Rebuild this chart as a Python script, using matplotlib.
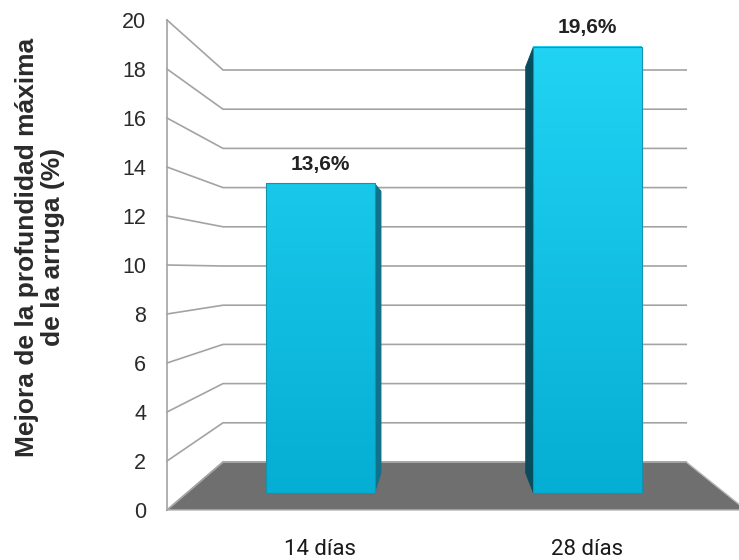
import numpy as np
import matplotlib.pyplot as plt
from matplotlib.patches import Polygon
from matplotlib.colors import LinearSegmentedColormap

categorias = ["14 días", "28 días"]
valores = [13.6, 19.6]
etiquetas = ["13,6%", "19,6%"]
yticks = list(range(0, 21, 2))

# figure / perspective layout (pixels of the 739x560 output)
W, H = 739, 560
PX = 24.5            # px per unit on the front plane
X0, Y0 = 167, 510    # front-left-bottom corner
VP = ((447 - X0) / PX, (Y0 - 270) / PX)   # vanishing point in data units
SHRINK = 0.2         # scale lost from front (d=0) to back wall (d=1)
R = (746 - X0) / PX  # right end of the floor on the front plane

BAR_C0, BAR_STEP, BAR_W = 5.87, 11.73, 4.75
D0, D1 = 0.354, 0.77

plt.rcParams['font.family'] = ['Liberation Sans', 'DejaVu Sans']


def proj(x, v, d):
    s = 1 - SHRINK * d
    return VP[0] + (x - VP[0]) * s, VP[1] + (v - VP[1]) * s


fig = plt.figure(figsize=(W / 100, H / 100), dpi=100)
ax = fig.add_axes([X0 / W, (H - Y0) / H, (W - X0) / W, 20 * PX / H])

# floor
floor = [proj(0, 0, 0), proj(0, 0, 1), proj(R, 0, 1), proj(R, 0, 0)]
ax.add_patch(Polygon(floor, closed=True, facecolor='#6f6f6f',
                     edgecolor='#b5b5b5', lw=1, zorder=1, clip_on=False))

# side wall diagonals + back wall grid
for v in yticks:
    pts = np.array([proj(0, v, 0), proj(0, v, 1), proj(R, v, 1)])
    ax.plot(pts[:, 0], pts[:, 1], color='#a3a3a3', lw=1.2, zorder=2,
            solid_joinstyle='miter', clip_on=False)

cmap = LinearSegmentedColormap.from_list('bar', ['#05aed3', '#22d4f4'])

for i, (cat, val, lab) in enumerate(zip(categorias, valores, etiquetas)):
    xl = BAR_C0 + i * BAR_STEP - BAR_W / 2
    xr = xl + BAR_W
    # visible side face
    if proj(xr, 0, D0)[0] < VP[0]:
        xs, col = xr, '#10728a'
    else:
        xs, col = xl, '#084c5e'
    side = [proj(xs, 0, D0), proj(xs, val, D0), proj(xs, val, D1), proj(xs, 0, D1)]
    ax.add_patch(Polygon(side, closed=True, facecolor=col, edgecolor=col,
                         lw=0.6, zorder=3))
    if val < VP[1]:
        top = [proj(xl, val, D0), proj(xr, val, D0), proj(xr, val, D1), proj(xl, val, D1)]
        ax.add_patch(Polygon(top, closed=True, facecolor='#5fe3f8', zorder=3))

    # front face with vertical gradient
    (fx0, fy0), (fx1, fy1) = proj(xl, 0, D0), proj(xr, val, D0)
    grad = np.linspace(0, val / 20, 256).reshape(-1, 1)
    ax.imshow(grad, cmap=cmap, vmin=0, vmax=1, origin='lower', aspect='auto',
              extent=[fx0, fx1, fy0, fy1], zorder=4, interpolation='bilinear')
    ax.add_patch(Polygon([(fx0, fy0), (fx1, fy0), (fx1, fy1), (fx0, fy1)],
                         closed=True, fill=False, edgecolor='#1592ad', lw=0.8, zorder=5))

    ax.annotate(lab, ((fx0 + fx1) / 2, fy1), xytext=(0, 7), textcoords='offset points',
                ha='center', va='bottom', fontsize=15, fontweight='bold',
                color='#222222', annotation_clip=False)

centros = [(proj(BAR_C0 + i * BAR_STEP, 0, D0)[0]) for i in range(len(categorias))]

ax.set_xlim(0, (W - X0) / PX)
ax.set_ylim(0, 20)
for s in ['top', 'right', 'bottom']:
    ax.spines[s].set_visible(False)
ax.spines['left'].set_color('#a3a3a3')
ax.spines['left'].set_linewidth(1.2)
ax.spines['left'].set_zorder(2)

ax.set_yticks(yticks)
ax.tick_params(axis='y', length=0, pad=15, labelsize=15.5, labelcolor='#2a2a2a')
ax.set_xticks(centros)
ax.set_xticklabels(categorias, fontfamily=['Roboto', 'DejaVu Sans'], fontweight='normal')
ax.tick_params(axis='x', length=0, pad=21, labelsize=16, labelcolor='#1a1a1a')

fig.text(40 / W, 1 - 247 / H, "Mejora de la profundidad máxima\nde la arruga (%)",
         rotation=90, ha='center', va='center', fontsize=19, fontweight='bold',
         color='#2a2a2a', linespacing=1.1)

fig.savefig('out.png', dpi=100)
